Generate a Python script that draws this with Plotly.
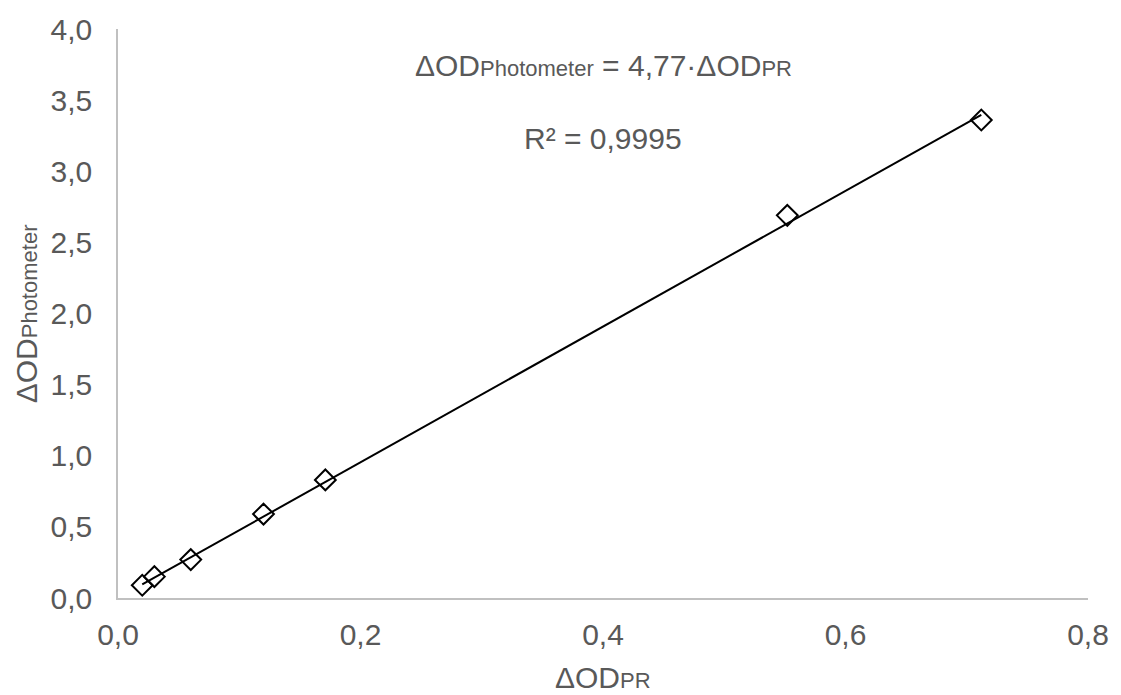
import plotly.graph_objects as go

# Data
od_pr = [0.020, 0.030, 0.060, 0.120, 0.171, 0.552, 0.712]
od_photometer = [0.09, 0.15, 0.27, 0.59, 0.83, 2.69, 3.36]
slope = 4.77
x_ticks = [0.0, 0.2, 0.4, 0.6, 0.8]
y_ticks = [0.0, 0.5, 1.0, 1.5, 2.0, 2.5, 3.0, 3.5, 4.0]

FONT = "Liberation Sans, Arial, sans-serif"
GRAY = "#595959"
BIG = 30
SMALL = 22

fit_x = [min(od_pr), max(od_pr)]
fit_y = [slope * v for v in fit_x]

fig = go.Figure()
fig.add_trace(go.Scatter(
    x=fit_x, y=fit_y, mode="lines",
    line=dict(color="black", width=2), showlegend=False, hoverinfo="skip"))
fig.add_trace(go.Scatter(
    x=od_pr, y=od_photometer, mode="markers",
    marker=dict(symbol="diamond-open", size=16, color="black",
                line=dict(color="black", width=2)),
    showlegend=False))

axis_common = dict(
    showgrid=False, zeroline=False, showline=True, linecolor="#c0c0c0",
    linewidth=1.5, ticks="", tickformat=".1f",
    tickfont=dict(family=FONT, size=BIG, color=GRAY),
)
fig.update_xaxes(range=[0, 0.8], tickvals=x_ticks, ticklabelstandoff=9, **axis_common)
fig.update_yaxes(range=[0, 4.0], tickvals=y_ticks, ticklabelstandoff=18, **axis_common)

fig.add_annotation(
    x=0.5, y=0.935, xref="paper", yref="paper", showarrow=False,
    xanchor="center", yanchor="middle",
    text=f"ΔOD<span style='font-size:{SMALL}px'>Photometer</span> = 4,77·ΔOD<span style='font-size:{SMALL}px'>PR</span>",
    font=dict(family=FONT, size=BIG, color=GRAY))
fig.add_annotation(
    x=0.5, y=0.808, xref="paper", yref="paper", showarrow=False,
    xanchor="center", yanchor="middle",
    text="R² = 0,9995",
    font=dict(family=FONT, size=BIG, color=GRAY))
fig.add_annotation(
    x=0.5, y=-0.14, xref="paper", yref="paper", showarrow=False,
    xanchor="center", yanchor="middle",
    text=f"ΔOD<span style='font-size:{SMALL}px'>PR</span>",
    font=dict(family=FONT, size=BIG, color=GRAY))
fig.add_annotation(
    x=-0.094, y=0.5, xref="paper", yref="paper", showarrow=False,
    textangle=-90, xanchor="center", yanchor="middle",
    text=f"ΔOD<span style='font-size:{SMALL}px'>Photometer</span>",
    font=dict(family=FONT, size=BIG, color=GRAY))

fig.update_layout(
    width=1121, height=695,
    margin=dict(l=118, r=27, t=25, b=97),
    plot_bgcolor="white", paper_bgcolor="white",
    separators=", ",
)

fig.write_html("out.html")
